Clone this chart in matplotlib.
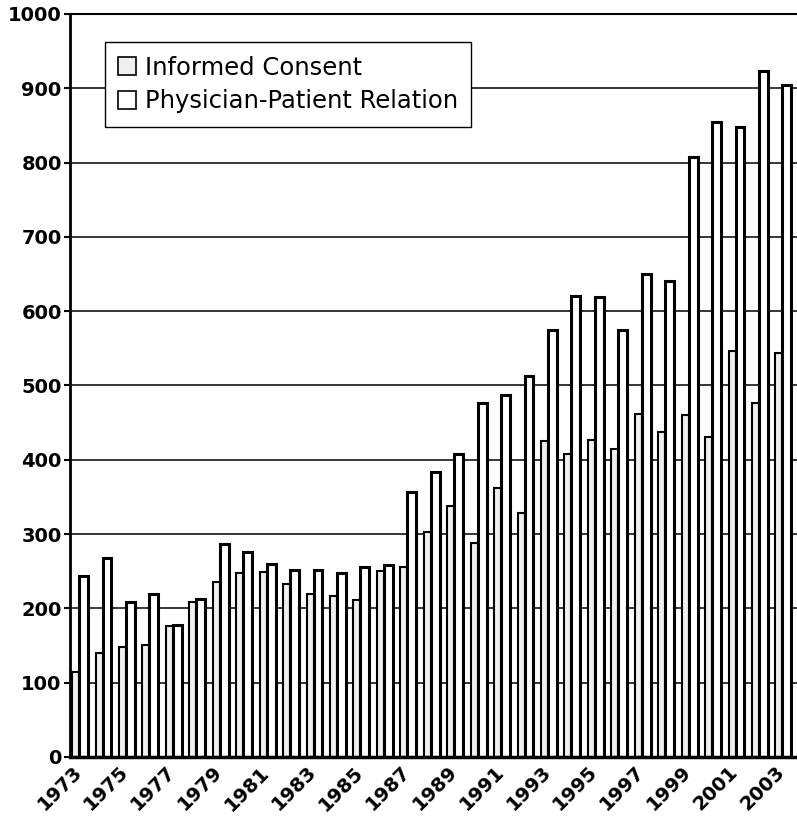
import numpy as np
from matplotlib import pyplot as plt

years = list(range(1973, 2004))
informed_consent = [115, 140, 148, 151, 176, 209, 236, 247, 249, 233, 219, 216,
                    211, 250, 256, 303, 338, 288, 362, 329, 425, 408, 427, 415,
                    462, 438, 460, 430, 547, 477, 544]
physician_patient = [244, 268, 209, 220, 177, 212, 287, 276, 260, 251, 251, 248,
                     255, 258, 356, 383, 408, 476, 487, 513, 574, 621, 619, 575,
                     650, 640, 807, 855, 848, 923, 904]
tick_years = years[::2]

x = np.arange(len(years))

fig = plt.figure(figsize=(7.97, 8.21), dpi=100)
ax = fig.add_axes([0.0878, 0.078, 0.9122, 0.905])

ax.bar(x, informed_consent, width=0.3, align="edge", color="#efefef",
       edgecolor="black", linewidth=1.5, label="Informed Consent", zorder=2)
ax.bar(x + 0.3, physician_patient, width=0.38, align="edge", color="white",
       edgecolor="black", linewidth=2.2, label="Physician-Patient Relation",
       zorder=2)

ax.set_xlim(-0.09, 30.92)
ax.set_ylim(0, 1000)
ax.set_yticks(range(0, 1001, 100))
ax.set_yticklabels([str(v) for v in range(0, 1001, 100)],
                   fontsize=14, fontweight="bold")
ax.set_xticks(x[::2])
ax.set_xticklabels([str(y) for y in tick_years], rotation=45, ha="right",
                   rotation_mode="anchor", fontsize=14, fontweight="bold")
ax.tick_params(axis="x", length=0, pad=4)
ax.tick_params(axis="y", length=4, width=1.5, pad=2)

ax.yaxis.grid(True, color="black", linewidth=1.1)
ax.set_axisbelow(True)

ax.spines["right"].set_visible(False)
ax.spines["left"].set_linewidth(2)
ax.spines["bottom"].set_linewidth(2.5)
ax.spines["top"].set_linewidth(1.5)

leg = ax.legend(loc="upper left", bbox_to_anchor=(0.048, 0.962),
                borderaxespad=0, fontsize=17.5, fancybox=False, framealpha=1,
                edgecolor="black", handlelength=0.75, handleheight=0.75,
                handletextpad=0.35, borderpad=0.55, labelspacing=0.4)
leg.get_frame().set_linewidth(1.0)
for h in leg.legend_handles:
    h.set_linewidth(1.2)

fig.savefig("out.png", dpi=100)
